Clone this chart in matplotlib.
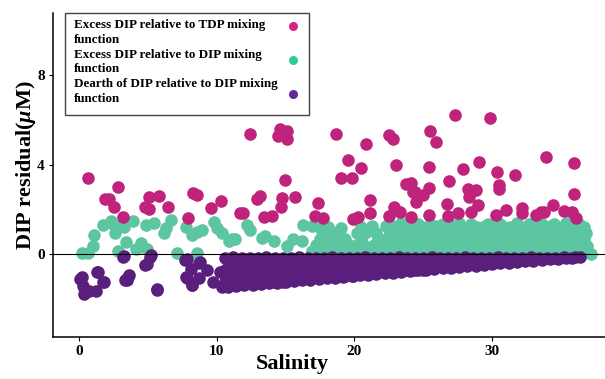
import numpy as np
import matplotlib
matplotlib.use("Agg")
import matplotlib.pyplot as plt
from matplotlib.patches import Rectangle

plt.rcParams['font.family'] = ['Liberation Serif', 'DejaVu Serif']
plt.rcParams['font.weight'] = 'bold'
plt.rcParams['mathtext.fontset'] = 'custom'
plt.rcParams['mathtext.rm'] = 'Liberation Serif:bold'
plt.rcParams['mathtext.it'] = 'Liberation Serif:italic:bold'

# --- data (salinity, DIP residual) ---

# excess DIP relative to TDP mixing function
tdp_pts = [
    (0.63, 3.38), (2.84, 3.01), (1.90, 2.45), (2.19, 2.45), (2.55, 2.10), (3.16, 1.64),
    (5.09, 2.57), (5.80, 2.60), (4.80, 2.13), (5.09, 2.03), (6.46, 2.10), (8.27, 2.74),
    (8.58, 2.64), (9.55, 2.08), (10.27, 2.39), (7.93, 1.61), (11.70, 1.85),
    (12.39, 5.36), (14.60, 5.58), (15.09, 5.48), (14.48, 5.29), (15.13, 5.14), (18.65, 5.36),
    (22.51, 5.33), (22.80, 5.14), (20.82, 4.92), (19.54, 4.19), (20.51, 3.86), (23.04, 4.00),
    (19.02, 3.41), (19.83, 3.41), (14.97, 3.33), (23.76, 3.13), (24.24, 2.79), (13.11, 2.60),
    (12.92, 2.45), (14.73, 2.50), (14.65, 2.13), (15.69, 2.54), (17.33, 2.30), (21.11, 2.42),
    (11.90, 1.84), (13.40, 1.66), (14.00, 1.69), (17.14, 1.72), (17.74, 1.61), (21.11, 1.84),
    (19.90, 1.57), (20.27, 1.66), (22.50, 1.69), (24.12, 1.66),
    (27.33, 6.20), (29.86, 6.09), (25.50, 5.51), (25.89, 5.02), (33.89, 4.36), (35.98, 4.07),
    (25.40, 3.89), (27.86, 3.79), (29.07, 4.11), (30.35, 3.67), (31.67, 3.52), (26.85, 3.26),
    (25.45, 2.97), (30.47, 3.11), (30.51, 2.93), (28.22, 2.93), (28.83, 2.86), (28.29, 2.57),
    (35.98, 2.67), (24.37, 2.79), (24.97, 2.64), (24.48, 2.35), (26.70, 2.23), (34.44, 2.20),
    (31.00, 1.98), (32.20, 2.05), (33.52, 1.88), (35.20, 1.94), (35.80, 1.88), (25.45, 1.76),
    (26.77, 1.69), (27.50, 1.84), (28.46, 1.88), (30.27, 1.76), (32.20, 1.84), (33.16, 1.76),
    (33.77, 1.88), (24.13, 3.16), (22.90, 2.10), (23.30, 1.90), (29.00, 2.20), (36.10, 1.62),
]

# excess DIP relative to DIP mixing function: scattered low-salinity points
dip_scatter = [
    (0.22, 0.04), (0.63, 0.04), (0.99, 0.37), (1.10, 0.84), (1.71, 1.32), (2.31, 1.47),
    (2.55, 1.32), (2.62, 0.95), (3.28, 1.22), (3.93, 1.47), (3.40, 0.54), (2.80, 0.15),
    (4.12, 0.22), (4.48, 0.48), (4.96, 0.22), (4.84, 1.32), (5.44, 1.40), (6.65, 1.51),
    (6.29, 1.17), (6.17, 0.95), (7.13, 0.04), (7.74, 1.22), (8.22, 0.84), (8.58, 0.98),
    (8.94, 1.10), (8.58, 0.04), (9.79, 1.42), (10.02, 1.17), (10.39, 0.93), (10.87, 0.59),
    (11.35, 0.69), (11.11, 0.66), (12.20, 1.32), (12.44, 1.10), (13.28, 0.73), (13.52, 0.81),
    (14.12, 0.59), (15.09, 0.37), (15.57, 0.69), (16.17, 0.59), (16.29, 1.32), (16.89, 1.25),
    (17.50, 1.17), (16.89, 0.15),
]

# excess DIP relative to DIP mixing function: dense high-salinity band
dip_band = [
    (16.9, 0.12), (17.5, 0.10), (18.1, 0.13), (18.7, 0.11), (19.3, 0.12), (19.9, 0.10),
    (20.5, 0.13), (21.1, 0.11), (21.7, 0.12), (22.3, 0.10), (22.9, 0.13), (23.5, 0.11),
    (24.1, 0.12), (24.7, 0.10), (25.3, 0.13), (25.9, 0.11), (26.5, 0.12), (27.1, 0.10),
    (27.7, 0.13), (28.3, 0.11), (28.9, 0.12), (29.5, 0.10), (30.1, 0.13), (30.7, 0.11),
    (31.3, 0.12), (31.9, 0.10), (32.5, 0.13), (33.1, 0.11), (33.7, 0.12), (34.3, 0.10),
    (34.9, 0.13), (35.5, 0.11), (36.1, 0.12), (36.7, 0.10), (37.2, 0.02),
    (17.2, 0.40), (17.8, 0.42), (18.4, 0.39), (19.0, 0.41), (19.6, 0.40), (20.2, 0.42),
    (20.8, 0.39), (21.4, 0.41), (22.0, 0.40), (22.6, 0.42), (23.2, 0.39), (23.8, 0.41),
    (24.4, 0.40), (25.0, 0.42), (25.6, 0.39), (26.2, 0.41), (26.8, 0.40), (27.4, 0.42),
    (28.0, 0.39), (28.6, 0.41), (29.2, 0.40), (29.8, 0.42), (30.4, 0.39), (31.0, 0.41),
    (31.6, 0.40), (32.2, 0.42), (32.8, 0.39), (33.4, 0.41), (34.0, 0.40), (34.6, 0.42),
    (35.2, 0.39), (35.8, 0.41), (36.4, 0.40), (36.9, 0.38),
    (17.5, 0.68), (18.1, 0.70), (18.7, 0.67), (19.3, 0.69), (20.5, 0.70), (21.7, 0.67),
    (22.3, 0.69), (22.9, 0.68), (23.5, 0.70), (24.1, 0.67), (24.7, 0.69), (25.3, 0.68),
    (25.9, 0.70), (26.5, 0.67), (27.1, 0.69), (27.7, 0.68), (28.3, 0.70), (28.9, 0.67),
    (29.5, 0.69), (30.1, 0.68), (30.7, 0.70), (31.3, 0.67), (31.9, 0.69), (32.5, 0.68),
    (33.1, 0.70), (33.7, 0.67), (34.3, 0.69), (34.9, 0.68), (35.5, 0.70), (36.1, 0.67),
    (36.7, 0.69),
    (17.8, 0.96), (18.4, 0.98), (20.2, 0.95), (20.8, 0.97), (21.6, 0.96), (22.6, 0.98),
    (23.2, 0.95), (23.8, 0.97), (24.4, 0.96), (25.0, 0.98), (25.6, 0.95), (26.2, 0.97),
    (26.8, 0.96), (27.4, 0.98), (28.0, 0.95), (28.6, 0.97), (29.2, 0.96), (29.8, 0.98),
    (30.4, 0.95), (31.0, 0.97), (31.6, 0.96), (32.2, 0.98), (32.8, 0.95), (33.4, 0.97),
    (34.0, 0.96), (34.6, 0.98), (35.2, 0.95), (35.8, 0.97), (36.4, 0.96), (36.8, 0.94),
    (18.1, 1.22), (19.0, 1.18), (20.5, 1.20), (21.3, 1.26), (22.3, 1.24), (22.9, 1.22),
    (23.5, 1.25), (24.1, 1.23), (24.7, 1.24), (25.3, 1.22), (25.9, 1.25), (26.5, 1.23),
    (27.1, 1.24), (27.7, 1.22), (28.3, 1.25), (28.9, 1.23), (29.5, 1.24), (30.1, 1.22),
    (30.7, 1.25), (31.3, 1.23), (31.9, 1.24), (32.5, 1.22), (33.1, 1.25), (33.7, 1.23),
    (34.3, 1.24), (34.9, 1.22), (35.5, 1.25), (36.1, 1.23), (36.7, 1.20),
    (22.5, 1.36), (23.4, 1.38), (24.6, 1.35), (25.5, 1.37), (26.4, 1.36), (27.6, 1.38),
    (28.5, 1.35), (29.7, 1.37), (30.6, 1.36), (31.8, 1.38), (32.7, 1.35), (33.6, 1.37),
    (34.5, 1.36), (35.4, 1.38), (36.3, 1.34),
]

# dearth of DIP relative to DIP mixing function: scattered low-salinity points
dearth_scatter = [
    (0.22, -1.03), (0.27, -1.40), (0.38, -1.76), (0.74, -1.62), (1.23, -1.62), (1.35, -0.78),
    (1.83, -1.22), (1.28, -0.79), (1.75, -1.23), (0.07, -1.10), (3.28, -0.07), (3.20, -0.12),
    (5.20, -0.04), (5.16, -0.12), (4.90, -0.44), (4.80, -0.49), (3.59, -0.93), (3.47, -1.13),
    (3.34, -1.16), (3.56, -1.01), (5.69, -1.54), (5.64, -1.58), (7.86, -0.19), (7.70, -0.27),
    (8.70, -0.37), (8.79, -0.34), (8.10, -0.66), (7.74, -1.03), (7.82, -1.08), (8.22, -1.39),
    (8.18, -1.38), (8.67, -1.08), (9.27, -0.71), (9.75, -1.24), (10.24, -0.79), (10.36, -1.46),
]

# dearth of DIP: dense wedge
dearth_band = [
    (10.6, -0.16), (11.2, -0.14), (11.8, -0.17), (12.4, -0.15), (13.0, -0.16), (13.6, -0.14),
    (14.2, -0.17), (14.8, -0.15), (15.4, -0.16), (16.0, -0.14), (16.6, -0.16), (17.2, -0.15),
    (17.8, -0.17), (18.4, -0.14), (19.0, -0.16), (19.6, -0.15), (20.2, -0.16), (20.8, -0.14),
    (21.4, -0.17), (22.0, -0.15), (22.6, -0.16), (23.2, -0.14), (23.8, -0.16), (24.4, -0.15),
    (25.0, -0.17), (25.6, -0.14), (26.2, -0.16), (26.8, -0.15), (27.4, -0.16), (28.0, -0.14),
    (28.6, -0.16), (29.2, -0.15), (29.8, -0.17), (30.4, -0.14), (31.0, -0.16), (31.6, -0.15),
    (32.2, -0.16), (32.8, -0.14), (33.4, -0.16), (34.0, -0.15), (34.6, -0.16), (35.2, -0.14),
    (35.8, -0.15), (36.4, -0.12),
    (10.9, -0.42), (11.5, -0.43), (12.1, -0.41), (12.7, -0.42), (13.3, -0.44), (13.9, -0.41),
    (14.5, -0.42), (15.1, -0.43), (15.7, -0.41), (16.3, -0.42), (16.9, -0.44), (17.5, -0.41),
    (18.1, -0.42), (18.7, -0.43), (19.3, -0.41), (19.9, -0.42), (20.5, -0.44), (21.1, -0.41),
    (21.7, -0.42), (22.3, -0.43), (22.9, -0.41), (23.5, -0.42), (24.1, -0.44), (24.7, -0.41),
    (25.3, -0.42), (25.9, -0.43), (26.5, -0.41), (27.1, -0.42), (27.7, -0.44), (28.3, -0.41),
    (28.9, -0.42), (29.5, -0.43), (30.1, -0.41),
    (10.6, -0.69), (11.2, -0.70), (11.8, -0.68), (12.4, -0.69), (13.0, -0.71), (13.6, -0.68),
    (14.2, -0.69), (14.8, -0.70), (15.4, -0.68), (16.0, -0.69), (16.6, -0.71), (17.2, -0.68),
    (17.8, -0.69), (18.4, -0.70), (19.0, -0.68), (19.6, -0.69), (20.2, -0.71), (20.8, -0.68),
    (21.4, -0.69), (22.0, -0.70), (22.6, -0.68), (23.2, -0.69), (23.8, -0.71), (24.4, -0.68),
    (25.0, -0.69),
    (10.9, -0.96), (11.5, -0.97), (12.1, -0.95), (12.7, -0.96), (13.3, -0.98), (13.9, -0.95),
    (14.5, -0.96), (15.1, -0.97), (15.7, -0.95), (16.3, -0.96), (16.9, -0.98), (17.5, -0.95),
    (18.1, -0.96), (18.7, -0.97), (19.3, -0.95), (19.9, -0.96),
    (10.6, -1.23), (11.2, -1.24), (11.8, -1.22), (12.4, -1.23), (13.0, -1.25), (13.6, -1.22),
    (14.2, -1.23), (14.8, -1.24),
    (10.8, -1.44), (11.4, -1.41), (12.0, -1.38), (12.6, -1.35), (13.2, -1.32), (13.8, -1.29),
    (14.4, -1.26), (15.0, -1.22), (15.6, -1.19), (16.2, -1.16), (16.8, -1.13), (17.4, -1.10),
    (18.0, -1.07), (18.6, -1.04), (19.2, -1.01), (19.8, -0.97), (20.4, -0.94), (21.0, -0.91),
    (21.6, -0.88), (22.2, -0.85), (22.8, -0.82), (23.4, -0.79), (24.0, -0.76), (24.6, -0.72),
    (25.2, -0.69), (25.8, -0.66), (26.4, -0.63), (27.0, -0.60), (27.6, -0.57), (28.2, -0.54),
    (28.8, -0.51), (29.4, -0.48), (30.0, -0.44), (30.6, -0.41), (31.2, -0.38), (31.8, -0.35),
    (32.4, -0.32), (33.0, -0.29), (33.6, -0.26), (34.2, -0.23), (34.8, -0.20), (35.4, -0.17),
    (36.0, -0.14),
]

labels = ['Excess DIP relative to TDP mixing\nfunction',
          'Excess DIP relative to DIP mixing\nfunction',
          'Dearth of DIP relative to DIP mixing\nfunction']
point_colors = ['#C0237B', '#5CC6A0', '#5A1E7C']
legend_colors = ['#D81F8A', '#2ECB98', '#5F2A98']

tdp = np.array(tdp_pts)
dip = np.array(dip_scatter + dip_band)
dearth = np.array(dearth_scatter + dearth_band)

W, H = 605, 379
fig = plt.figure(figsize=(W / 100, H / 100), dpi=100)
ax = fig.add_axes([53 / W, 42 / H, 552 / W, 324 / H])

s = 82
ax.scatter(dip[:, 0], dip[:, 1], s=s, color=point_colors[1], linewidths=0, zorder=2)
ax.scatter(dearth[:, 0], dearth[:, 1], s=s, color=point_colors[2], linewidths=0, zorder=3)
ax.scatter(tdp[:, 0], tdp[:, 1], s=s, color=point_colors[0], linewidths=0, zorder=4)
ax.axhline(0, color='black', lw=0.8, zorder=5)

ax.set_xlim(-1.9, 38.2)
ax.set_ylim(-3.69, 10.76)
ax.set_xticks([0, 10, 20, 30])
ax.set_yticks([0, 4, 8])
ax.tick_params(length=3, width=0.8, labelsize=11, pad=3)
for lab in ax.get_xticklabels() + ax.get_yticklabels():
    lab.set_fontweight('bold')
for side in ['top', 'right']:
    ax.spines[side].set_visible(False)
for side in ['left', 'bottom']:
    ax.spines[side].set_linewidth(1.1)

ax.set_xlabel('Salinity', fontsize=16, fontweight='bold')
ax.set_ylabel(r'DIP residual($\mu$M)', fontsize=16, fontweight='bold')
ax.xaxis.set_label_coords((292 - 53) / 552, -0.052)
ax.yaxis.set_label_coords(-0.028, (337 - 165) / 324)

# legend box drawn by hand: text left, marker right
fig.patches.append(Rectangle((65 / W, 1 - 115 / H), 244 / W, 102.3 / H,
                             transform=fig.transFigure, facecolor='white',
                             edgecolor='#444444', linewidth=1.0, zorder=10))
text_y = [32.5, 61.7, 91.5]
mark_y = [25.7, 60.0, 94.0]
for lab, ty, my, c in zip(labels, text_y, mark_y, legend_colors):
    fig.text(74 / W, 1 - ty / H, lab, ha='left', va='center', fontsize=9.4,
             fontweight='bold', linespacing=1.25, zorder=11)
    fig.add_artist(plt.Line2D([293 / W], [1 - my / H], marker='o', markersize=6.5,
                              markerfacecolor=c, markeredgewidth=0, linestyle='none',
                              transform=fig.transFigure, zorder=11))

fig.savefig('out.png', dpi=100)
